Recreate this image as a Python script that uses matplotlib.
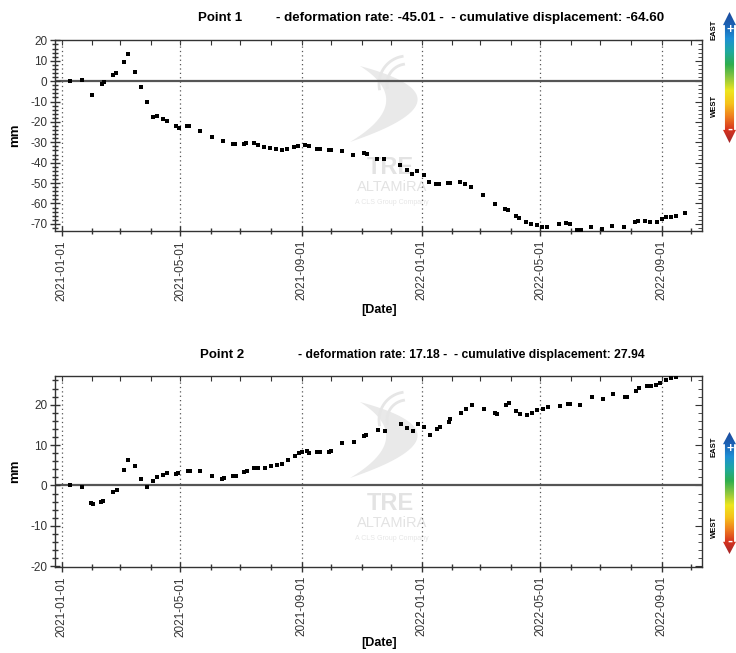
import numpy as np
import matplotlib
matplotlib.use("Agg")
import matplotlib.pyplot as plt
import matplotlib.dates as mdates
from matplotlib.patches import Polygon
from matplotlib.colors import LinearSegmentedColormap

plt.rcParams['font.family'] = ['Liberation Sans', 'DejaVu Sans']
plt.rcParams['axes.unicode_minus'] = False

START = np.datetime64('2021-01-01')

# acquisition days (counted from START) and displacement in mm
days1 = [8, 20, 31, 41, 43, 52, 55, 63, 67, 74, 80, 86, 92, 96, 103, 107, 116, 119,
         127, 129, 140, 152, 163, 173, 176, 185, 187, 195, 199, 205, 211, 217, 223,
         228, 235, 239, 246, 251, 259, 262, 271, 273, 284, 295, 306, 309, 319, 327,
         343, 350, 355, 360, 367, 372, 379, 382, 391, 393, 404, 409, 415, 427, 439,
         449, 452, 460, 463, 471, 476, 482, 487, 492, 504, 511, 515, 522, 526, 536,
         548, 558, 570, 581, 584, 591, 596, 603, 608, 613, 618, 623, 632]
disp1 = [0.1, 0.5, -6.6, -1.5, -0.5, 2.8, 3.8, 9.3, 13.2, 4.4, -2.8, -10.1, -17.8,
         -17.3, -18.5, -19.5, -21.9, -22.9, -22.2, -21.9, -24.5, -27.6, -29.4, -30.6,
         -30.9, -30.9, -30.4, -30.4, -31.4, -32.2, -32.7, -33.2, -33.7, -33.2, -32.2,
         -31.9, -31.5, -32.0, -33.2, -33.2, -33.7, -33.7, -34.2, -36.0, -35.1, -35.6,
         -38.1, -38.4, -41.2, -43.6, -45.6, -44.0, -45.9, -49.6, -50.6, -50.2, -50.0,
         -49.8, -49.3, -50.3, -51.8, -56.0, -60.1, -62.6, -63.4, -66.2, -67.3, -69.3,
         -70.1, -70.7, -71.4, -71.7, -70.2, -69.5, -70.1, -73.2, -73.0, -71.4, -72.5,
         -70.9, -71.7, -69.0, -68.5, -68.6, -69.1, -69.1, -67.6, -66.8, -66.8, -66.2,
         -64.6]

days2 = [8, 20, 30, 32, 40, 42, 52, 56, 63, 67, 74, 80, 86, 92, 96, 103, 107, 116,
         118, 128, 130, 140, 152, 162, 164, 173, 177, 185, 188, 195, 199, 206, 212,
         218, 223, 229, 236, 240, 243, 248, 251, 259, 262, 271, 273, 284, 296, 306,
         308, 320, 328, 344, 350, 356, 361, 367, 373, 380, 383, 392, 394, 405, 410,
         416, 428, 439, 441, 450, 453, 460, 464, 472, 477, 482, 488, 493, 505, 513,
         515, 525, 537, 549, 559, 571, 573, 582, 585, 593, 597, 602, 606, 612, 618,
         623, 632]
disp2 = [0.0, -0.5, -4.3, -4.6, -4.0, -3.9, -1.7, -1.2, 3.8, 6.4, 4.7, 1.7, -0.4,
         1.2, 2.1, 2.6, 3.1, 2.8, 3.0, 3.6, 3.6, 3.6, 2.3, 1.7, 1.8, 2.3, 2.3, 3.3,
         3.6, 4.4, 4.4, 4.4, 4.8, 5.0, 5.4, 6.3, 7.3, 8.1, 8.3, 8.6, 8.1, 8.3, 8.3,
         8.3, 8.6, 10.5, 10.7, 12.3, 12.6, 13.7, 13.5, 15.2, 14.2, 13.5, 15.2, 14.5,
         12.5, 13.9, 14.4, 15.7, 16.4, 18.0, 18.9, 19.9, 18.9, 18.0, 17.7, 19.9, 20.4,
         18.4, 17.8, 17.5, 18.0, 18.7, 18.9, 19.4, 19.7, 20.2, 20.2, 19.9, 21.8, 21.4,
         22.6, 22.0, 22.0, 23.5, 24.2, 24.7, 24.7, 24.9, 25.4, 26.2, 26.5, 26.9, 27.94]

point_names = ["Point 1", "Point 2"]
point_info = ["- deformation rate: -45.01 -  - cumulative displacement: -64.60",
              "- deformation rate: 17.18 -  - cumulative displacement: 27.94"]
y_limits = [(-73.5, 20.2), (-20.2, 27.1)]

W, H = 736, 653
fig = plt.figure(figsize=(W / 100, H / 100), dpi=100)
fig.patch.set_facecolor('white')


def fx(px):
    return px / W


def fy(py):
    return 1 - py / H


def watermark(ax):
    # light TRE ALTAMIRA logo behind the points
    aw, ah = 647.0, 191.0

    def to_ax(p):
        return (p[0] / aw, 1 - p[1] / ah)

    t = np.linspace(0, 1, 40)
    p0, p2 = np.array([305, 26]), np.array([295, 102])
    c_out, c_in = np.array([425, 58]), np.array([362, 62])
    outer = [(1 - s) ** 2 * p0 + 2 * (1 - s) * s * c_out + s ** 2 * p2 for s in t]
    inner = [(1 - s) ** 2 * p2 + 2 * (1 - s) * s * c_in + s ** 2 * p0 for s in t]
    pts = [to_ax(p) for p in outer + inner]
    ax.add_patch(Polygon(pts, closed=True, transform=ax.transAxes,
                         facecolor='#e9e9e9', edgecolor='none', zorder=0))
    for r in (20, 28):
        th = np.linspace(np.radians(100), np.radians(190), 30)
        arc = [to_ax((352 + r * np.cos(a), 44 - r * np.sin(a))) for a in th]
        ax.plot([p[0] for p in arc], [p[1] for p in arc], color='#e6e6e6',
                lw=2, transform=ax.transAxes, zorder=0)
    ax.text(335 / aw, 1 - 127 / ah, "TRE", transform=ax.transAxes, ha='center',
            va='center', fontsize=17, fontweight='bold', color='#e3e3e3', zorder=0)
    ax.text(337 / aw, 1 - 147 / ah, "ALTAMiRA", transform=ax.transAxes, ha='center',
            va='center', fontsize=10.5, color='#e3e3e3', zorder=0)
    ax.text(337 / aw, 1 - 162 / ah, "A CLS Group Company", transform=ax.transAxes,
            ha='center', va='center', fontsize=5, color='#e6e6e6', zorder=0)


def arrow_bar(y_top, y_bot):
    cax = fig.add_axes([fx(723), fy(y_bot), fx(13), (y_bot - y_top) / H])
    cax.set_axis_off()
    cmap = LinearSegmentedColormap.from_list(
        'ew', ['#a3262a', '#d6331f', '#ef7d1f', '#f6c21a', '#eee61e', '#8cc63f',
               '#2fae4e', '#1fa9a0', '#1e8fd5', '#1c62b4', '#1b4a9c'])
    grad = np.linspace(0, 1, 256).reshape(-1, 1)
    im = cax.imshow(grad, extent=[0, 1, 0, 1], origin='lower', aspect='auto',
                    cmap=cmap)
    shape = Polygon([(0.5, 1.0), (1.0, 0.9), (0.85, 0.9), (0.85, 0.1), (1.0, 0.1),
                     (0.5, 0.0), (0.0, 0.1), (0.15, 0.1), (0.15, 0.9), (0.0, 0.9)],
                    closed=True, transform=cax.transData, facecolor='none',
                    edgecolor='none')
    cax.add_patch(shape)
    im.set_clip_path(shape)
    cax.set_xlim(0, 1)
    cax.set_ylim(0, 1)
    cax.text(0.55, 0.86, "+", color='white', fontsize=9, fontweight='bold',
             ha='center', va='center')
    cax.text(0.55, 0.11, "-", color='white', fontsize=11, fontweight='bold',
             ha='center', va='center')


datasets = [(days1, disp1), (days2, disp2)]
axes_top = [40, 376]
title_y = [18, 355]
name_x = [198, 200]
info_x = [276, 298]
info_size = [9.6, 8.7]
label_y = [310, 643]
bars = [(12, 143), (432, 554)]
east_west = [(30, 106), (447, 527)]

for i, (days, disp) in enumerate(datasets):
    top = axes_top[i]
    ax = fig.add_axes([fx(55), fy(top + 191), fx(647), 191 / H])
    dates = START + np.array(days, dtype='timedelta64[D]')

    ax.axhline(0, color='#555555', lw=1.6, zorder=1)
    ax.plot(dates, disp, 's', color='black', ms=2.7, mew=0, zorder=3)

    ax.set_xlim(mdates.date2num(START - np.timedelta64(7, 'D')),
                mdates.date2num(START + np.timedelta64(649, 'D')))
    ax.set_ylim(*y_limits[i])

    ax.xaxis.set_major_locator(mdates.MonthLocator(bymonth=[1, 5, 9]))
    ax.xaxis.set_minor_locator(mdates.MonthLocator())
    ax.xaxis.set_major_formatter(mdates.DateFormatter('%Y-%m-%d'))
    ax.yaxis.set_major_locator(plt.MultipleLocator(10))
    ax.yaxis.set_minor_locator(plt.MultipleLocator(2))
    ax.grid(axis='x', which='major', color='#555555', ls=(0, (1, 2.5)), lw=0.9)

    ax.tick_params(which='both', direction='inout', color='#333333', width=1,
                   top=False, right=False, labelcolor='#333333')
    ax.tick_params(which='major', length=7)
    ax.tick_params(which='minor', length=4)
    ax.tick_params(axis='x', labelrotation=90, labelsize=8.5, pad=3)
    ax.tick_params(axis='y', labelsize=8.5, pad=2)

    sx = ax.secondary_xaxis('top')
    sx.xaxis.set_major_locator(mdates.MonthLocator())
    sx.tick_params(direction='in', length=3.5, color='#333333', labeltop=False)
    sy = ax.secondary_yaxis('right')
    sy.yaxis.set_major_locator(plt.MultipleLocator(10))
    sy.yaxis.set_minor_locator(plt.MultipleLocator(2))
    sy.tick_params(which='major', direction='in', length=5, color='#333333',
                   labelright=False)
    sy.tick_params(which='minor', direction='in', length=3, color='#333333')
    for s in ax.spines.values():
        s.set_color('#333333')
        s.set_linewidth(1.0)
    sx.spines['top'].set_visible(False)
    sy.spines['right'].set_visible(False)

    watermark(ax)

    fig.text(fx(name_x[i]), fy(title_y[i]), point_names[i], fontsize=9.5,
             fontweight='bold', va='center', ha='left')
    fig.text(fx(info_x[i]), fy(title_y[i]), point_info[i], fontsize=info_size[i],
             fontweight='bold', va='center', ha='left')
    fig.text(fx(15), fy(top + 95), "mm", rotation=90, fontsize=9.5,
             fontweight='bold', va='center', ha='center')
    fig.text(fx(379), fy(label_y[i]), "[Date]", fontsize=9, fontweight='bold',
             va='center', ha='center')

    arrow_bar(*bars[i])
    fig.text(fx(714), fy(east_west[i][0]), "EAST", rotation=90, fontsize=5.5,
             fontweight='bold', va='center', ha='center')
    fig.text(fx(714), fy(east_west[i][1]), "WEST", rotation=90, fontsize=5.5,
             fontweight='bold', va='center', ha='center')

fig.savefig('out.png', dpi=100, facecolor='white')
